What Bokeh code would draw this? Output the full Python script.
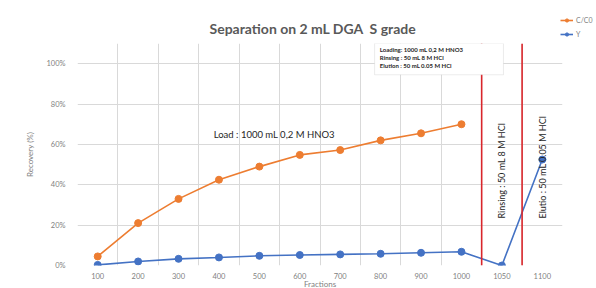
import numpy as np
from bokeh.plotting import figure
from bokeh.models import (FixedTicker, NumeralTickFormatter, Span, Label, BoxAnnotation,
                          Legend, LegendItem, Range1d)
from bokeh.embed import file_html
from bokeh.resources import INLINE

fractions = ["100", "200", "300", "400", "500", "600", "700", "800", "900", "1000", "1050", "1100"]
cc0 = [0.045, 0.21, 0.33, 0.425, 0.49, 0.548, 0.572, 0.62, 0.655, 0.70, None, None]
yv = [0.003, 0.02, 0.033, 0.04, 0.048, 0.052, 0.055, 0.058, 0.063, 0.068, 0.0, 0.525]
y_ticks = [0, 0.2, 0.4, 0.6, 0.8, 1.0]

idx = np.arange(len(fractions))
FONT = "Lato"
GRAY = "#7f7f7f"
ORANGE = "#ED7D31"
BLUE = "#4472C4"

p = figure(width=596, height=288, output_backend="svg", toolbar_location=None,
           x_range=Range1d(-0.5, len(fractions) - 0.5), y_range=Range1d(0, 1.1),
           min_border_left=77, min_border_right=34, min_border_top=43, min_border_bottom=23,
           frame_width=485, frame_height=222)
p.outline_line_color = None
p.background_fill_color = "white"

p.title.text = "Separation on 2 mL DGA\u00a0 S grade"
p.title.align = "left"
p.title.offset = 132
p.title.standoff = 14
p.title.text_font = FONT
p.title.text_font_size = "14px"
p.title.text_color = "#595959"
p.title.text_font_style = "bold"

p.xaxis.ticker = FixedTicker(ticks=list(idx))
p.xaxis.major_label_overrides = {int(i): f for i, f in zip(idx, fractions)}
p.yaxis.ticker = FixedTicker(ticks=y_ticks)
p.yaxis.formatter = NumeralTickFormatter(format="0%")
for ax in (p.xaxis[0], p.yaxis[0]):
    ax.axis_line_color = None
    ax.major_tick_line_color = None
    ax.minor_tick_line_color = None
    ax.major_label_text_font = FONT
    ax.major_label_text_font_size = "7.5px"
    ax.major_label_text_color = GRAY
    ax.axis_label_text_font = FONT
    ax.axis_label_text_font_size = "8px"
    ax.axis_label_text_color = GRAY
    ax.axis_label_text_font_style = "normal"
p.xaxis.axis_label = "Fractions"
p.yaxis.axis_label = "Recovery (%)"
p.xaxis.major_label_standoff = 1
p.xaxis.axis_label_standoff = -3
p.yaxis.major_label_standoff = 6
p.yaxis.axis_label_standoff = 8

p.xgrid.ticker = FixedTicker(ticks=list(np.arange(-0.5, len(fractions), 1.0)))
p.ygrid.ticker = FixedTicker(ticks=y_ticks)
p.xgrid.grid_line_color = "#d9d9d9"
p.ygrid.grid_line_color = "#d9d9d9"

n_load = sum(v is not None for v in cc0)
r1 = p.line(idx[:n_load], cc0[:n_load], color=ORANGE, line_width=1.6)
c1 = p.scatter(idx[:n_load], cc0[:n_load], color=ORANGE, size=7)
r2 = p.line(idx, yv, color=BLUE, line_width=1.6)
c2 = p.scatter(idx, yv, color=BLUE, size=7)

i1050 = fractions.index("1050")
for pos in (i1050 - 0.5, i1050 + 0.5):
    p.add_layout(Span(location=pos, dimension="height", line_color="#d9262b", line_width=1.6))

p.add_layout(Label(x=2.87, y=0.65, text="Load : 1000 mL 0,2 M HNO3", text_font=FONT,
                   text_font_size="9.5px", text_color="#262626", text_baseline="middle"))
p.add_layout(Label(x=i1050, y=0.233, text="Rinsing : 50 mL 8 M HCl", angle=np.pi / 2,
                   text_font=FONT, text_font_size="9px", text_color="#262626",
                   text_align="left", text_baseline="middle"))
p.add_layout(Label(x=i1050 + 1, y=0.233, text="Elutio : 50 mL 0.05 M HCl", angle=np.pi / 2,
                   text_font=FONT, text_font_size="9px", text_color="#262626",
                   text_align="left", text_baseline="middle"))

p.add_layout(BoxAnnotation(left=6.85, right=10.04, bottom=0.945, top=1.1,
                           fill_color="white", fill_alpha=1, line_color="#bfbfbf", line_width=1))
notes = ["Loading: 1000 mL 0,2 M HNO3", "Rinsing : 50 mL 8 M HCl", "Elution : 50 mL 0.05 M HCl"]
for k, t in enumerate(notes):
    p.add_layout(Label(x=6.98, y=1.07 - k * 0.04, text=t, text_font=FONT, text_font_size="6px",
                       text_font_style="bold", text_color="#262626", text_baseline="middle"))

legend = Legend(items=[LegendItem(label="C/C0", renderers=[r1, c1]),
                       LegendItem(label="Y", renderers=[r2, c2])],
                location=(-2, 226), label_text_font=FONT, label_text_font_size="7px",
                label_text_color=GRAY, glyph_width=13, glyph_height=8, spacing=4,
                padding=0, margin=0, border_line_color=None, background_fill_alpha=0,
                label_height=10, label_standoff=3)
p.add_layout(legend, "right")

open("out.html", "w").write(file_html(p, INLINE))
